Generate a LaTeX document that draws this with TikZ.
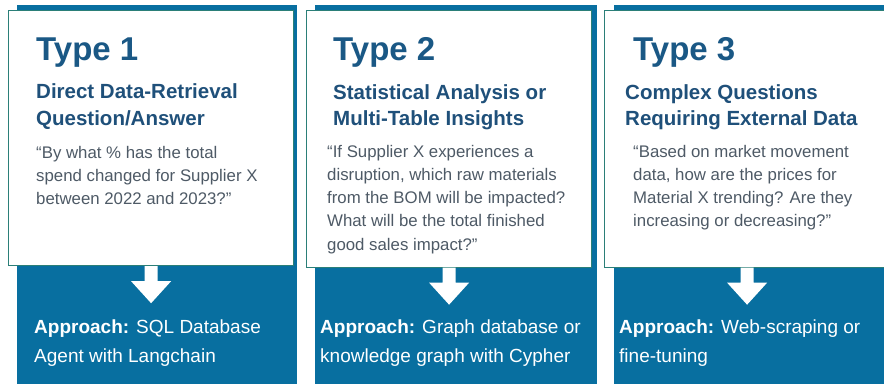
\documentclass[tikz,border=0pt]{standalone}
\usepackage{fontspec}
\setmainfont{Liberation Sans}
\usetikzlibrary{positioning}

\definecolor{bandblue}{RGB}{8,111,160}
\definecolor{cardedge}{RGB}{43,127,120}
\definecolor{typeblue}{RGB}{26,88,133}
\definecolor{subblue}{RGB}{31,80,122}
\definecolor{quotegray}{RGB}{78,90,102}

% multi-line nodes sit on the baseline of their last line
\tikzset{
	band/.style = {fill = bandblue, draw = none},
	card/.style = {fill = white, draw = cardedge, line width = 1.2pt},
	typetxt/.style = {anchor = base west, inner sep = 0, text = typeblue,
		font = \fontsize{33}{36}\selectfont\bfseries},
	subtxt/.style = {anchor = base west, inner sep = 0, align = left, text = subblue,
		font = \fontsize{20.5}{26.5}\selectfont\bfseries},
	quotetxt/.style = {anchor = base west, inner sep = 0, align = left, text = quotegray,
		font = \fontsize{16.8}{23.3}\selectfont},
	apptxt/.style = {anchor = base west, inner sep = 0, align = left, text = white,
		font = \fontsize{19}{28.5}\selectfont}
}

\begin{document}
\begin{tikzpicture}[x = 1pt, y = -1pt]
		\useasboundingbox (0, 0) rectangle (884, 384);
		%%%%%%%%%%%%% blue bands
		\fill [band] (17, 4.5) rectangle (297, 384);
		\fill [band] (315, 4.5) rectangle (597, 384);
		\fill [band] (614, 4.5) rectangle (896, 384);
		\clip (0, 0) rectangle (884, 384);
		%%%%%%%%%%%%% white cards
		\node [card, anchor = north west, minimum width = 285pt, minimum height = 255pt] (card1) at (8, 10) {};
		\node [card, anchor = north west, minimum width = 285pt, minimum height = 256.5pt] (card2) at (306, 10) {};
		\node [card, anchor = north west, minimum width = 285pt, minimum height = 256.5pt] (card3) at (604, 10) {};
		%%%%%%%%%%%%% arrows out of the cards
		\foreach \c in {card1, card2, card3}
			\fill [white] (\c.south) ++(-6.5, 0) -- ++(0, 15) -- ++(-13.5, 0) -- ++(20, 22)
				-- ++(20, -22) -- ++(-13.5, 0) -- ++(0, -15) -- cycle;
		%%%%%%%%%%%%% type 1
		\node [typetxt] (type1) at (36, 60) {Type 1};
		\node [subtxt] (sub1) at (36, 125) {Direct Data-Retrieval\\Question/Answer};
		\node [quotetxt] (q1) at (36, 204.6) {“By what \% has the total\\spend changed for Supplier X\\between 2022 and 2023?”};
		\node [apptxt] (app1) at (34, 362) {\textbf{Approach:} SQL Database\\Agent with Langchain};
		%%%%%%%%%%%%% type 2
		\node [typetxt] (type2) at (333, 60) {Type 2};
		\node [subtxt] (sub2) at (333, 125.5) {Statistical Analysis or\\Multi-Table Insights};
		\node [quotetxt] (q2) at (327, 250.2) {“If Supplier X experiences a\\disruption, which raw materials\\from the BOM will be impacted?\\What will be the total finished\\good sales impact?”};
		\node [apptxt] (app2) at (320, 362) {\textbf{Approach:} Graph database or\\knowledge graph with Cypher};
		%%%%%%%%%%%%% type 3
		\node [typetxt] (type3) at (633, 60) {Type 3};
		\node [subtxt] (sub3) at (625, 125.5) {Complex Questions\\Requiring External Data};
		\node [quotetxt] (q3) at (633, 226.9) {“Based on market movement\\data, how are the prices for\\Material X trending? Are they\\increasing or decreasing?”};
		\node [apptxt] (app3) at (619, 362) {\textbf{Approach:} Web-scraping or\\fine-tuning};
\end{tikzpicture}
\end{document}
